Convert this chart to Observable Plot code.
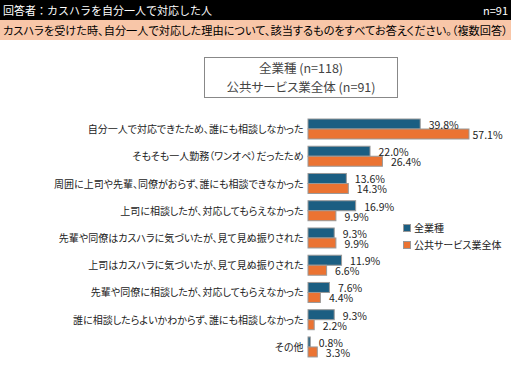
<!DOCTYPE html>
<html><head><meta charset="utf-8">
<script src="https://cdn.jsdelivr.net/npm/d3@7"></script>
<script src="https://cdn.jsdelivr.net/npm/@observablehq/plot@0.6"></script>
<style>
body{margin:0;background:#fff;font-family:"Noto Sans CJK JP",sans-serif;}
#wrap{position:relative;width:511px;height:376px;overflow:hidden;}
.hdr{position:absolute;left:0;top:0;width:511px;height:20px;background:#000;color:#fff;font-size:11px;line-height:20px;white-space:nowrap;}
.sub{position:absolute;left:0;top:20px;width:511px;height:20px;background:#f8c6a8;color:#000;font-size:11.2px;line-height:20px;white-space:nowrap;font-feature-settings:"palt";}
.box{position:absolute;left:204px;top:57px;width:192px;height:39px;border:1px solid #888;color:#444;font-size:12.5px;text-align:center;line-height:19px;font-feature-settings:"palt";}
.leg{position:absolute;left:403px;font-size:10px;color:#222;white-space:nowrap;line-height:12px;font-feature-settings:"palt";}
.leg span.sw{display:inline-block;width:6px;height:6px;border:1px solid #999;margin-right:3px;vertical-align:0px;}
#chart{position:absolute;left:0;top:100px;}
</style></head>
<body><div id="wrap">
<div class="hdr"><span style="position:absolute;left:3px;">回答者：カスハラを自分一人で対応した人</span><span style="position:absolute;right:3px;">n=91</span></div>
<div class="sub"><span style="position:absolute;left:3px;">カスハラを受けた時、自分一人で対応した理由について、該当するものをすべてお答えください。（複数回答）</span></div>
<div class="box" id="box"></div>
<div id="legend"></div>
<div id="chart"></div>
</div>
<script>
const categories = [
  "自分一人で対応できたため、誰にも相談しなかった",
  "そもそも一人勤務（ワンオペ）だったため",
  "周囲に上司や先輩、同僚がおらず、誰にも相談できなかった",
  "上司に相談したが、対応してもらえなかった",
  "先輩や同僚はカスハラに気づいたが、見て見ぬ振りされた",
  "上司はカスハラに気づいたが、見て見ぬ振りされた",
  "先輩や同僚に相談したが、対応してもらえなかった",
  "誰に相談したらよいかわからず、誰にも相談しなかった",
  "その他"
];
const seriesNames = ["全業種", "公共サービス業全体"];
const seriesN = ["n=118", "n=91"];
const allIndustries = [39.8, 22.0, 13.6, 16.9, 9.3, 11.9, 7.6, 9.3, 0.8];
const publicService = [57.1, 26.4, 14.3, 9.9, 9.9, 6.6, 4.4, 2.2, 3.3];
const colors = ["#1b5e82", "#eb7332"];

document.getElementById("box").innerHTML =
  seriesNames.map((s, i) => `<div>${s} (${seriesN[i]})</div>`).join("");
document.getElementById("legend").innerHTML =
  seriesNames.map((s, i) => `<div class="leg" style="top:${222 + i * 17}px"><span class="sw" style="background:${colors[i]}"></span>${s}</div>`).join("");

const data = [];
categories.forEach((c, i) => {
  data.push({cat: c, series: seriesNames[0], value: allIndustries[i]});
  data.push({cat: c, series: seriesNames[1], value: publicService[i]});
});

const chart = Plot.plot({
  width: 511,
  height: 276,
  marginLeft: 308,
  marginRight: 0,
  marginTop: 12.7,
  marginBottom: 12.1,
  style: {fontFamily: '"Noto Sans CJK JP", sans-serif', fontSize: "10px", color: "#222", fontFeatureSettings: '"palt"'},
  x: {domain: [0, 72], axis: null},
  fy: {domain: categories, paddingInner: 0.22, paddingOuter: 0.22, round: false, label: null, axis: "left", tickSize: 0, tickPadding: 5},
  y: {domain: seriesNames, padding: 0, axis: null},
  color: {domain: seriesNames, range: colors},
  marks: [
    Plot.barX(data, {fy: "cat", y: "series", x: "value", fill: "series", stroke: "#999", strokeWidth: 1}),
    Plot.text(data.filter(d => d.value < 50), {fy: "cat", y: "series", x: "value", text: d => d.value.toFixed(1) + "%", textAnchor: "start", dx: 8, dy: 1, fill: "#222", fontSize: 10.5}),
    Plot.text(data.filter(d => d.value >= 50), {fy: "cat", y: "series", x: "value", text: d => d.value.toFixed(1) + "%", textAnchor: "start", dx: 3, dy: 1, fill: "#222", fontSize: 10.5})
  ]
});
document.getElementById("chart").appendChild(chart);
</script>
</body></html>
